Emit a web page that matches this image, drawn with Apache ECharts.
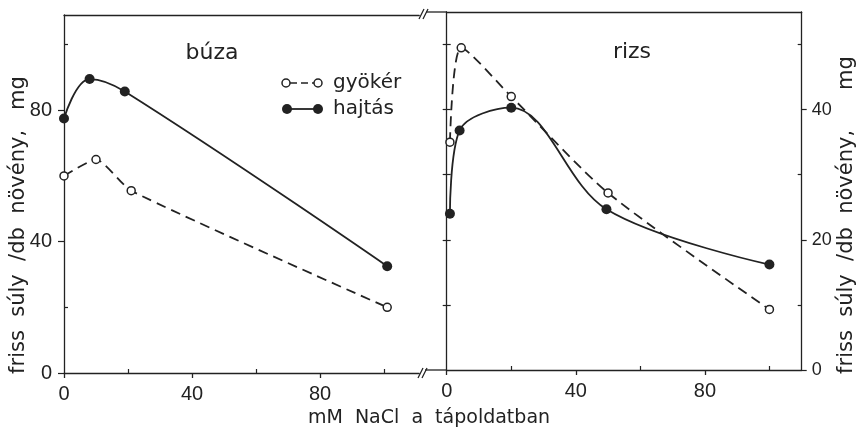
<!DOCTYPE html>
<html>
<head>
<meta charset="utf-8">
<script src="https://cdn.jsdelivr.net/npm/echarts@6/dist/echarts.min.js"></script>
<style>
  html, body { margin: 0; padding: 0; background: #fff; }
  #chart { width: 860px; height: 434px; }
</style>
</head>
<body>
<div id="chart"></div>
<script>
// tick values
const xTicks = [0, 40, 80];
const xMinor = [20, 60, 100];
const buzaYTicks = [0, 40, 80];
const buzaYMinor = [20, 60, 100];
const rizsYTicks = [0, 20, 40];
const rizsYMinor = [10, 20, 30, 40, 50];
const rizsYMinorRight = [10, 30, 50];

// búza (mM NaCl, mg)
const buzaGyoker = [[0, 60], [10, 65], [21, 55.5], [101, 20]];
const buzaHajtas = [[0, 77.5], [8, 89.5], [19, 85.7], [101, 32.5]];
// rizs
const rizsGyoker = [[1, 35], [4.5, 49.5], [20, 42], [50, 27.2], [100, 9.3]];
const rizsHajtas = [[1, 24], [4, 36.8], [20, 40.3], [49.5, 24.7], [100, 16.2]];

const ink = '#222';
const numFont = 'Liberation Sans';

var chart = echarts.init(document.getElementById('chart'));

function xAx(grid, max, pos, kind) {
	let a = {
		type: 'value', gridIndex: grid, min: 0, max: max, position: pos,
		splitLine: { show: false },
		axisLine: { show: kind != 'minor', onZero: false, lineStyle: { color: ink, width: 1.3 } },
		axisTick: { show: false },
		axisLabel: { show: false }
	};
	if (kind == 'major') {
		a.axisTick = { show: true, customValues: xTicks, length: 5, lineStyle: { color: ink, width: 1.3 } };
		a.axisLabel = { show: true, customValues: xTicks, margin: 11, color: ink, fontSize: 20, fontFamily: numFont };
	}
	if (kind == 'minor') {
		a.axisTick = { show: true, customValues: xMinor, inside: true, length: 4, lineStyle: { color: ink, width: 1.2 } };
	}
	return a;
}

function yAx(grid, max, pos, opt) {
	return {
		type: 'value', gridIndex: grid, min: 0, max: max, position: pos,
		splitLine: { show: false },
		axisLine: { show: !!opt.line, onZero: false, lineStyle: { color: ink, width: 1.3 } },
		axisTick: opt.ticks ? { show: true, customValues: opt.ticks, inside: !!opt.inside, length: opt.len || 5, lineStyle: { color: ink, width: 1.2 } } : { show: false },
		axisLabel: opt.labels ? { show: true, customValues: opt.labels, margin: opt.margin, color: ink, fontSize: opt.fs || 20, fontFamily: numFont } : { show: false }
	};
}

function lineSeries(xi, yi, data, open, smooth) {
	return {
		type: 'line', xAxisIndex: xi, yAxisIndex: yi, data: data,
		smooth: smooth, symbol: 'circle',
		symbolSize: open ? 8 : 10,
		lineStyle: { color: ink, width: 1.8, type: open ? [10, 6] : 'solid' },
		itemStyle: open ? { color: '#fff', borderColor: ink, borderWidth: 1.5 } : { color: ink },
		z: open ? 3 : 2
	};
}

option = {
	backgroundColor: '#fff',
	animation: false,
	grid: [
		{ left: 64, top: 15, width: 355.2, height: 358 },   // búza
		{ left: 446.7, top: 12, width: 355, height: 358 }   // rizs
	],
	xAxis: [
		xAx(0, 111, 'bottom', 'major'),
		xAx(0, 111, 'bottom', 'minor'),
		xAx(0, 111, 'top', 'line'),
		xAx(1, 110, 'bottom', 'major'),
		xAx(1, 110, 'bottom', 'minor'),
		xAx(1, 110, 'top', 'line')
	],
	yAxis: [
		yAx(0, 109, 'left', { line: true, ticks: buzaYTicks, labels: buzaYTicks, margin: 12, len: 6 }),
		yAx(0, 109, 'left', { ticks: buzaYMinor, inside: true, len: 4 }),
		yAx(1, 55, 'left', { line: true, ticks: rizsYMinor, len: 4 }),
		yAx(1, 55, 'left', { ticks: rizsYMinor, inside: true, len: 4 }),
		yAx(1, 55, 'right', { line: true, ticks: rizsYTicks, labels: rizsYTicks, margin: 10, len: 5, fs: 18 }),
		yAx(1, 55, 'right', { ticks: rizsYMinorRight, inside: true, len: 4 })
	],
	series: [
		lineSeries(0, 0, buzaGyoker, true, 0.2),
		lineSeries(0, 0, buzaHajtas, false, 0.4),
		lineSeries(3, 4, rizsGyoker, true, 0.25),
		lineSeries(3, 4, rizsHajtas, false, 0.35)
	],
	graphic: [
		// axis break marks and connecting frame pieces
		{ type: 'line', shape: { x1: 419, y1: 19, x2: 424, y2: 9 }, style: { stroke: ink, lineWidth: 1.3 } },
		{ type: 'line', shape: { x1: 423, y1: 19, x2: 428, y2: 9 }, style: { stroke: ink, lineWidth: 1.3 } },
		{ type: 'line', shape: { x1: 426, y1: 12, x2: 447, y2: 12 }, style: { stroke: ink, lineWidth: 1.3 } },
		{ type: 'line', shape: { x1: 418, y1: 378, x2: 423, y2: 368 }, style: { stroke: ink, lineWidth: 1.3 } },
		{ type: 'line', shape: { x1: 422, y1: 378, x2: 427, y2: 368 }, style: { stroke: ink, lineWidth: 1.3 } },
		{ type: 'line', shape: { x1: 425, y1: 370, x2: 447, y2: 370 }, style: { stroke: ink, lineWidth: 1.3 } },
		// panel titles
		{ type: 'text', x: 212, y: 53, style: { text: 'búza', fill: ink, font: '22px "DejaVu Sans"', textAlign: 'center', textVerticalAlign: 'middle' } },
		{ type: 'text', x: 632, y: 52, style: { text: 'rizs', fill: ink, font: '22px "DejaVu Sans"', textAlign: 'center', textVerticalAlign: 'middle' } },
		// legend
		{ type: 'line', shape: { x1: 290, y1: 83, x2: 314, y2: 83 }, style: { stroke: ink, lineWidth: 1.6, lineDash: [7, 4] } },
		{ type: 'circle', shape: { cx: 286, cy: 83, r: 4 }, style: { fill: '#fff', stroke: ink, lineWidth: 1.5 } },
		{ type: 'circle', shape: { cx: 318, cy: 83, r: 4 }, style: { fill: '#fff', stroke: ink, lineWidth: 1.5 } },
		{ type: 'text', x: 333, y: 83, style: { text: 'gyökér', fill: ink, font: '20px "DejaVu Sans"', textVerticalAlign: 'middle' } },
		{ type: 'line', shape: { x1: 287, y1: 109, x2: 318, y2: 109 }, style: { stroke: ink, lineWidth: 1.8 } },
		{ type: 'circle', shape: { cx: 287, cy: 109, r: 5 }, style: { fill: ink } },
		{ type: 'circle', shape: { cx: 318, cy: 109, r: 5 }, style: { fill: ink } },
		{ type: 'text', x: 333, y: 109, style: { text: 'hajtás', fill: ink, font: '20px "DejaVu Sans"', textVerticalAlign: 'middle' } },
		// axis names
		{ type: 'text', x: 429, y: 418, style: { text: 'mM  NaCl  a  tápoldatban', fill: ink, font: '19px "DejaVu Sans"', textAlign: 'center', textVerticalAlign: 'middle' } },
		{ type: 'text', x: 19, y: 225, rotation: Math.PI / 2, style: { text: 'friss  súly  /db  növény,   mg', fill: ink, font: '21px "DejaVu Sans"', textAlign: 'center', textVerticalAlign: 'middle' } },
		{ type: 'text', x: 847, y: 215, rotation: Math.PI / 2, style: { text: 'friss  súly  /db  növény,      mg', fill: ink, font: '21px "DejaVu Sans"', textAlign: 'center', textVerticalAlign: 'middle' } }
	]
};

chart.setOption(option);
</script>
</body>
</html>
